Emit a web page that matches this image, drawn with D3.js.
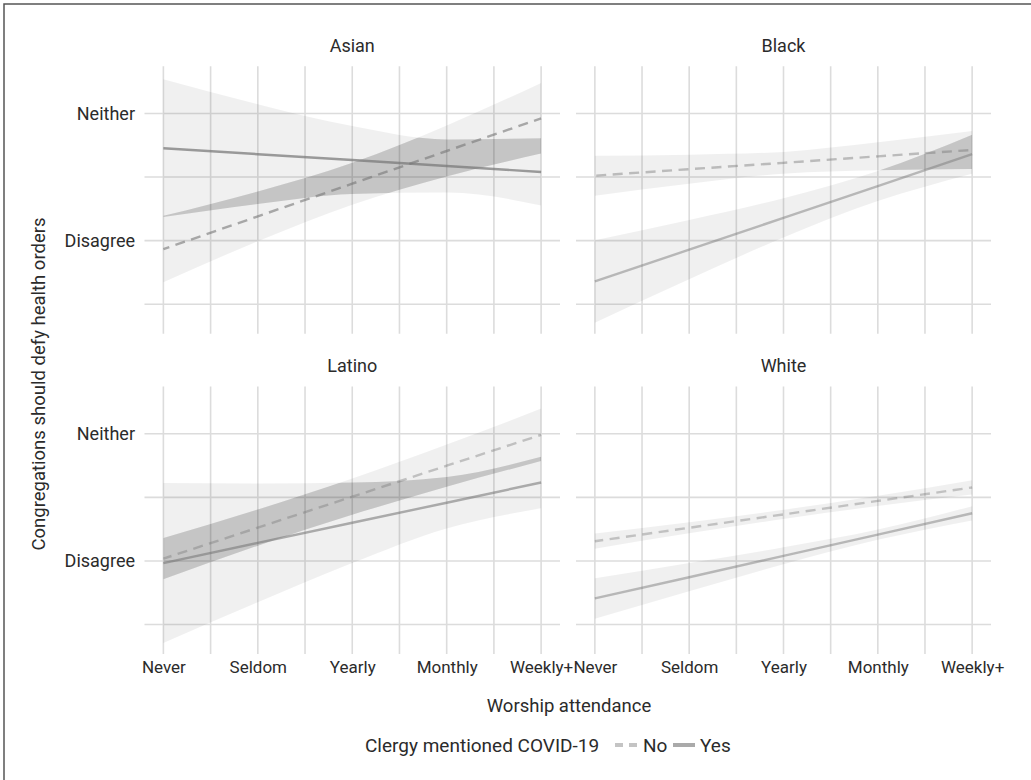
<!DOCTYPE html>
<html>
<head>
<meta charset="utf-8">
<script src="https://cdn.jsdelivr.net/npm/d3@7"></script>
<style>
  html, body { margin: 0; padding: 0; background: #ffffff; }
  svg { display: block; font-family: Roboto, "Liberation Sans", sans-serif; }
</style>
</head>
<body>
<script>
// Attendance categories on the x axis
const categories = ["Never", "Seldom", "Yearly", "Monthly", "Weekly+"];
// Facet panels (race / ethnicity)
const panels = ["Asian", "Black", "Latino", "White"];
// Clergy mentioned COVID-19
const groups = ["No", "Yes"];
// Y axis ticks (response scale)
const yTickValues = [2, 3];
const yTickLabels = ["Disagree", "Neither"];
const yMinorValues = [1.5, 2.5];

// Fitted values and 95% bands, one value per attendance category
const asianNoFit     = [1.933, 2.191, 2.448, 2.705, 2.962];
const asianNoLower   = [1.672, 1.995, 2.283, 2.505, 2.685];
const asianNoUpper   = [2.195, 2.387, 2.613, 2.906, 3.240];
const asianYesFit    = [2.727, 2.680, 2.634, 2.587, 2.540];
const asianYesLower  = [2.185, 2.288, 2.367, 2.378, 2.276];
const asianYesUpper  = [3.269, 3.073, 2.901, 2.796, 2.805];

const blackNoFit     = [2.511, 2.562, 2.612, 2.663, 2.713];
const blackNoLower   = [2.354, 2.448, 2.526, 2.553, 2.564];
const blackNoUpper   = [2.668, 2.676, 2.698, 2.773, 2.862];
const blackYesFit    = [1.679, 1.929, 2.179, 2.429, 2.680];
const blackYesLower  = [1.355, 1.697, 2.024, 2.311, 2.527];
const blackYesUpper  = [2.003, 2.162, 2.334, 2.547, 2.833];

const latinoNoFit    = [2.018, 2.262, 2.505, 2.749, 2.992];
const latinoNoLower  = [1.856, 2.120, 2.363, 2.583, 2.786];
const latinoNoUpper  = [2.180, 2.405, 2.648, 2.915, 3.198];
const latinoYesFit   = [1.983, 2.142, 2.300, 2.458, 2.617];
const latinoYesLower = [1.354, 1.675, 1.983, 2.255, 2.414];
const latinoYesUpper = [2.613, 2.609, 2.617, 2.661, 2.820];

const whiteNoFit     = [2.155, 2.261, 2.366, 2.472, 2.578];
const whiteNoLower   = [2.096, 2.217, 2.330, 2.432, 2.522];
const whiteNoUpper   = [2.215, 2.305, 2.402, 2.512, 2.634];
const whiteYesFit    = [1.705, 1.872, 2.040, 2.207, 2.375];
const whiteYesLower  = [1.546, 1.761, 1.973, 2.166, 2.319];
const whiteYesUpper  = [1.864, 1.983, 2.108, 2.248, 2.431];

const series = {
  Asian:  { No:  { fit: asianNoFit,  lo: asianNoLower,  hi: asianNoUpper },
            Yes: { fit: asianYesFit, lo: asianYesLower, hi: asianYesUpper } },
  Black:  { No:  { fit: blackNoFit,  lo: blackNoLower,  hi: blackNoUpper },
            Yes: { fit: blackYesFit, lo: blackYesLower, hi: blackYesUpper } },
  Latino: { No:  { fit: latinoNoFit,  lo: latinoNoLower,  hi: latinoNoUpper },
            Yes: { fit: latinoYesFit, lo: latinoYesLower, hi: latinoYesUpper } },
  White:  { No:  { fit: whiteNoFit,  lo: whiteNoLower,  hi: whiteNoUpper },
            Yes: { fit: whiteYesFit, lo: whiteYesLower, hi: whiteYesUpper } }
};

// ---- styling / layout ----
const W = 1031, H = 780;
const textColor = "#2b2b2b";
const gridColor = "#dcdcdc";
const lineBase = "#777777";
// translucent fit lines: darker where they cross the shaded bands
const lineOpacity = {
  Asian:  { No: 0.60, Yes: 0.72 },
  Black:  { No: 0.44, Yes: 0.47 },
  Latino: { No: 0.40, Yes: 0.58 },
  White:  { No: 0.39, Yes: 0.47 }
};
const dashPattern = "10,6.5";
const colExtent = [[144.5, 560], [576, 991]];
const rowExtent = [[66.2, 333.7], [386.5, 654]];
const yDomain = [1.268, 3.372];

const svg = d3.select("body").append("svg")
  .attr("width", W).attr("height", H)
  .attr("viewBox", `0 0 ${W} ${H}`);

svg.append("rect").attr("width", W).attr("height", H).attr("fill", "#ffffff");
// outer frame (left and top edges)
svg.append("path").attr("d", `M4,${H} V4 H${W}`)
  .attr("fill", "none").attr("stroke", "#555").attr("stroke-width", 1.5);

const defs = svg.append("defs");

panels.forEach((name, i) => {
  const col = i % 2, row = Math.floor(i / 2);
  const [x0, x1] = colExtent[col];
  const [y0, y1] = rowExtent[row];

  const x = d3.scalePoint().domain(categories).range([x0, x1]).padding(0.2);
  const y = d3.scaleLinear().domain(yDomain).range([y1, y0]);

  const g = svg.append("g").attr("class", "panel");

  // grid: major at categories, minor halfway between
  const xs = categories.map(c => x(c));
  const xMinor = d3.pairs(xs).map(([a, b]) => (a + b) / 2);
  const vx = xs.concat(xMinor);
  g.selectAll("line.vgrid").data(vx).join("line")
    .attr("class", "vgrid")
    .attr("x1", d => d).attr("x2", d => d)
    .attr("y1", y0).attr("y2", y1)
    .attr("stroke", gridColor).attr("stroke-width", 1.6);
  g.selectAll("line.hgrid").data(yTickValues.concat(yMinorValues)).join("line")
    .attr("class", "hgrid")
    .attr("x1", x0).attr("x2", x1)
    .attr("y1", d => y(d)).attr("y2", d => y(d))
    .attr("stroke", gridColor).attr("stroke-width", 1.6);

  const rows = g => categories.map((c, j) => ({
    cat: c, fit: g.fit[j], lo: g.lo[j], hi: g.hi[j]
  }));

  const area = d3.area()
    .x(d => x(d.cat)).y0(d => y(d.lo)).y1(d => y(d.hi))
    .curve(d3.curveMonotoneX);
  const line = d3.line().x(d => x(d.cat)).y(d => y(d.fit));

  const noRows = rows(series[name].No);
  const yesRows = rows(series[name].Yes);

  // confidence bands
  [noRows, yesRows].forEach(r => {
    g.append("path").attr("d", area(r))
      .attr("fill", "#000").attr("fill-opacity", 0.06);
  });

  // where the two bands overlap
  const clipId = `band-overlap-${name}`;
  defs.append("clipPath").attr("id", clipId)
    .append("path").attr("d", area(noRows));
  g.append("path").attr("d", area(yesRows))
    .attr("clip-path", `url(#${clipId})`)
    .attr("fill", "#000").attr("fill-opacity", 0.12);

  // fitted lines (dashes laid out from the right end so the line reaches Weekly+)
  const noPath = g.append("path").attr("d", line(noRows))
    .attr("fill", "none").attr("stroke", lineBase)
    .attr("stroke-opacity", lineOpacity[name].No)
    .attr("stroke-width", 2.4).attr("stroke-dasharray", dashPattern);
  const len = noPath.node().getTotalLength();
  const period = 16.5;
  noPath.attr("stroke-dashoffset", -(period - (len % period)));
  g.append("path").attr("d", line(yesRows))
    .attr("fill", "none").attr("stroke", lineBase)
    .attr("stroke-opacity", lineOpacity[name].Yes)
    .attr("stroke-width", 2.4);

  // strip title
  svg.append("text")
    .attr("x", (x0 + x1) / 2).attr("y", y0 - 21)
    .attr("text-anchor", "middle").attr("dominant-baseline", "central")
    .attr("fill", textColor).attr("font-size", 18)
    .text(name);

  // y axis labels on the left column
  if (col === 0) {
    svg.append("g").selectAll("text").data(yTickValues).join("text")
      .attr("x", 135).attr("y", d => y(d))
      .attr("text-anchor", "end").attr("dominant-baseline", "central")
      .attr("fill", textColor).attr("font-size", 18)
      .text((d, k) => yTickLabels[k]);
  }

  // x axis labels on the bottom row
  if (row === 1) {
    const ax = d3.axisBottom(x).tickSize(0).tickPadding(0);
    const axg = svg.append("g").attr("transform", `translate(0,${y1})`).call(ax);
    axg.select(".domain").remove();
    axg.selectAll("text")
      .attr("y", 13).attr("dy", "0.35em")
      .attr("fill", textColor).attr("font-size", 17)
      .attr("font-family", "Roboto, 'Liberation Sans', sans-serif");
  }
});

// axis titles
svg.append("text")
  .attr("x", 569).attr("y", 706)
  .attr("text-anchor", "middle").attr("dominant-baseline", "central")
  .attr("fill", textColor).attr("font-size", 18.5)
  .text("Worship attendance");

svg.append("text")
  .attr("transform", "translate(39,384) rotate(-90)")
  .attr("text-anchor", "middle").attr("dominant-baseline", "central")
  .attr("fill", textColor).attr("font-size", 18.5)
  .text("Congregations should defy health orders");

// legend
const legendY = 745;
const legend = svg.append("g");
legend.append("text")
  .attr("x", 365).attr("y", legendY)
  .attr("dominant-baseline", "central")
  .attr("fill", textColor).attr("font-size", 19)
  .text("Clergy mentioned COVID-19");

const keyStyle = {
  No:  { x: 615, label: 643, color: "#c4c4c4", dash: "8,6" },
  Yes: { x: 673, label: 700, color: "#aaaaaa", dash: null }
};
groups.forEach(grp => {
  const k = keyStyle[grp];
  legend.append("line")
    .attr("x1", k.x).attr("x2", k.x + 22)
    .attr("y1", legendY).attr("y2", legendY)
    .attr("stroke", k.color).attr("stroke-width", 4)
    .attr("stroke-dasharray", k.dash);
  legend.append("text")
    .attr("x", k.label).attr("y", legendY)
    .attr("dominant-baseline", "central")
    .attr("fill", textColor).attr("font-size", 19)
    .text(grp);
});
</script>
</body>
</html>
